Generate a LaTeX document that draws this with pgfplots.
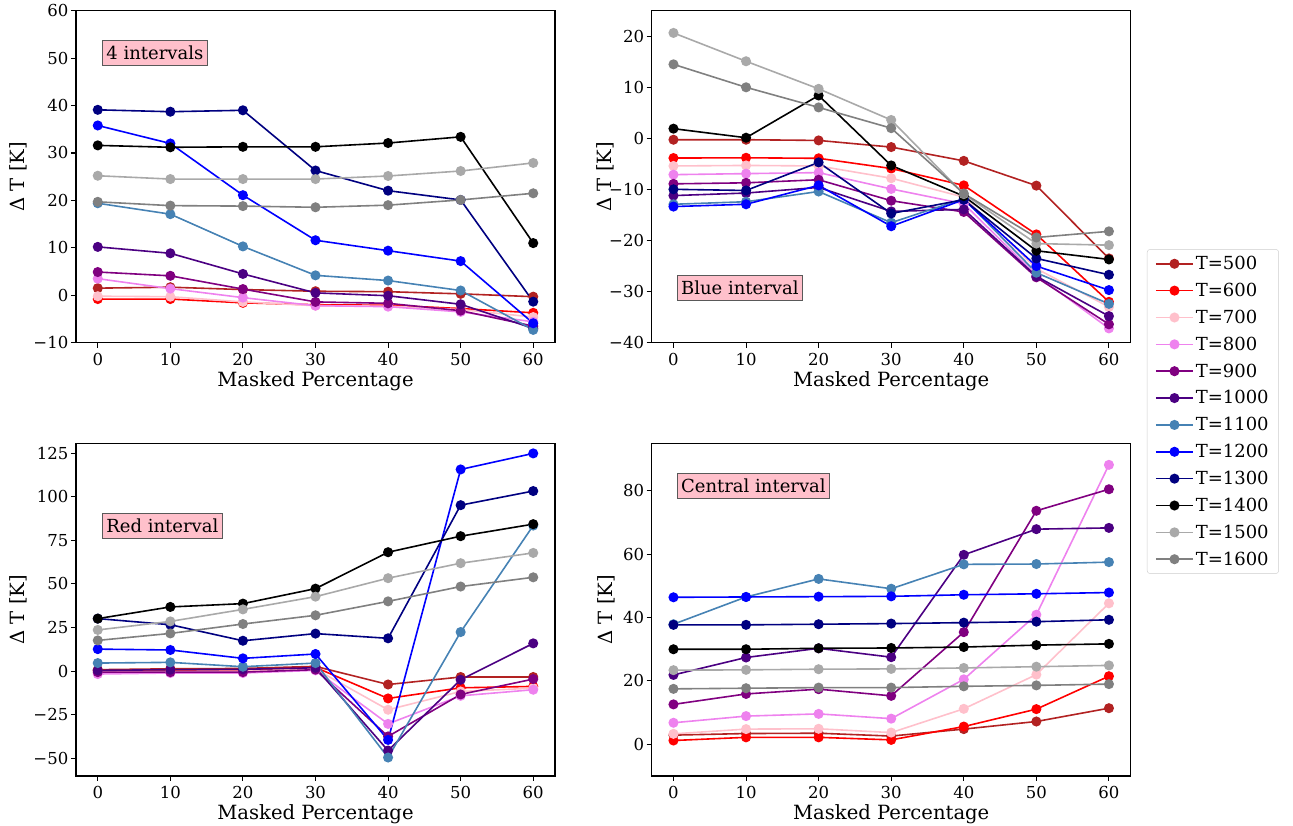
\documentclass[border=0pt]{standalone}
\usepackage{fontspec}
\setmainfont{DejaVu Serif}
\usepackage{pgfplots}
\pgfplotsset{compat=1.18}
\usepackage{pgfplotstable}

\definecolor{c500}{RGB}{178,34,34}
\definecolor{c600}{RGB}{255,0,0}
\definecolor{c700}{RGB}{255,192,203}
\definecolor{c800}{RGB}{238,130,238}
\definecolor{c900}{RGB}{128,0,128}
\definecolor{c1000}{RGB}{75,0,130}
\definecolor{c1100}{RGB}{70,130,180}
\definecolor{c1200}{RGB}{0,0,255}
\definecolor{c1300}{RGB}{0,0,128}
\definecolor{c1400}{RGB}{0,0,0}
\definecolor{c1500}{RGB}{169,169,169}
\definecolor{c1600}{RGB}{128,128,128}
\definecolor{boxpink}{RGB}{255,192,203}

% 4 intervals
\pgfplotstableread{
x  t500 t600 t700 t800 t900 t1000 t1100 t1200 t1300 t1400 t1500 t1600
0  1.5  -0.8 -0.2 3.5  4.9  10.2  19.4  35.8  39.1  31.6  25.2  19.7
10 1.7  -0.8 -0.3 1.4  4.1  8.85  17.1  32.0  38.7  31.2  24.5  18.9
20 1.2  -1.6 -1.4 -0.5 1.3  4.5   10.3  21.1  39.0  31.3  24.5  18.8
30 0.85 -2.0 -2.2 -2.2 -1.4 0.5   4.2   11.6  26.3  31.3  24.5  18.55
40 0.75 -2.1 -2.3 -2.4 -1.7 -0.1  3.1   9.4   22.05 32.1  25.15 19.0
50 0.3  -2.8 -3.0 -3.5 -3.25 -1.9 1.0   7.2   20.1  33.4  26.2  20.1
60 -0.3 -3.7 -4.6 -5.6 -6.5 -7.0  -7.3  -5.9  -1.35 11.0  27.9  21.5
}\fourint

% blue interval
\pgfplotstableread{
x  t500  t600  t700  t800  t900  t1000 t1100 t1200 t1300 t1400 t1500 t1600
0  -0.26 -3.85 -5.4  -7.1  -8.9  -11.2 -12.9 -13.35 -9.97 1.9  20.65 14.5
10 -0.26 -3.8  -5.3  -6.9  -8.7  -10.7 -12.4 -12.9 -10.2 0.13  15.1  10.0
20 -0.4  -3.9  -5.4  -6.7  -8.1  -9.6  -10.4 -9.2  -4.7  8.4   9.7   6.06
30 -1.7  -5.9  -7.8  -9.9  -12.2 -14.3 -16.5 -17.2 -14.7 -5.3  3.6   2.0
40 -4.4  -9.2  -11.5 -12.8 -14.4 -13.9 -11.8 -12.0 -12.0 -11.3 -10.9 -10.8
50 -9.25 -18.8 -25.5 -26.8 -27.2 -27.0 -26.3 -25.0 -23.5 -22.0 -20.6 -19.4
60 -23.5 -32.0 -33.0 -37.2 -36.4 -34.8 -32.4 -29.7 -26.7 -23.7 -20.9 -18.2
}\blueint

% red interval
\pgfplotstableread{
x  t500 t600  t700  t800  t900  t1000 t1100 t1200 t1300 t1400 t1500 t1600
0  0.8  0.2   -0.4  -1.7  -0.6  0.4   4.6   12.6  30.1  30.1  23.6  17.6
10 1.3  0.4   -0.2  -1.1  -0.6  0.8   5.0   12.1  26.6  36.8  28.5  21.6
20 1.5  0.6   0.0   -1.1  -0.6  1.0   2.5   7.3   17.4  38.7  35.4  27.0
30 2.7  2.1   1.1   0.4   0.8   1.9   4.6   9.8   21.5  47.3  42.7  32.0
40 -7.7 -15.7 -22.2 -30.3 -37.5 -45.6 -49.6 -39.5 18.8  68.2  53.3  40.0
50 -3.4 -9.6  -11.7 -14.2 -13.4 -5.0  22.4  115.7 95.2  77.4  61.9  48.5
60 -3.4 -8.8  -9.8  -10.7 -4.6  15.9  83.5  124.9 103.3 84.3  67.8  53.8
}\redint

% central interval
\pgfplotstableread{
x  t500 t600 t700 t800 t900 t1000 t1100 t1200 t1300 t1400 t1500 t1600
0  2.9  1.2  3.3  6.8  12.6 21.9  37.9  46.4  37.7  30.0  23.4  17.5
10 3.4  2.2  4.8  8.9  15.9 27.4  46.5  46.5  37.7  30.0  23.5  17.7
20 3.5  2.2  4.9  9.6  17.4 30.3  52.2  46.6  37.9  30.3  23.7  17.9
30 2.6  1.4  3.7  8.1  15.3 27.5  49.1  46.7  38.1  30.4  23.8  17.9
40 4.8  5.6  11.2 20.5 35.4 59.8  56.8  47.2  38.4  30.7  24.1  18.3
50 7.2  11.1 22.0 40.9 73.7 67.9  56.9  47.5  38.7  31.3  24.5  18.6
60 11.4 21.5 44.5 88.2 80.5 68.3  57.5  47.9  39.3  31.7  24.9  19.0
}\centint

\pgfplotsset{
  panel/.style={
    scale only axis, width=479pt, height=332pt,
    anchor=south west,
    xmin=-3, xmax=63,
    xtick={0,10,20,30,40,50,60},
    xticklabels={0,10,20,30,40,50,60},
    xtick pos=lower, ytick pos=left,
    tick align=outside, major tick length=5pt,
    every tick/.style={black, line width=1.1pt},
    axis line style={line width=1.1pt},
    tick label style={font=\fontsize{16.5}{19}\selectfont, inner sep=0pt},
    xticklabel style={anchor=north, yshift=-5pt},
    yticklabel style={anchor=east, xshift=-2.5pt},
    label style={font=\fontsize{19.6}{23}\selectfont},
    xlabel={Masked Percentage},
    ylabel={Δ T [K]},
    xlabel style={at={(rel axis cs:0.5,0)}, anchor=base, yshift=-44pt},
    ylabel style={at={(rel axis cs:0,0.5)}, anchor=center},
    every axis plot/.append style={line width=1.6pt, mark=*, mark size=4.2pt, mark options={solid}},
    cycle list={{c500},{c600},{c700},{c800},{c900},{c1000},{c1100},{c1200},{c1300},{c1400},{c1500},{c1600}},
  },
}
\tikzset{
  tag/.style={fill=boxpink, draw=black!65, line width=1pt, anchor=west,
    inner xsep=4pt, inner ysep=5.5pt, font=\fontsize{18}{21}\selectfont},
}

\newcommand{\allplots}[1]{%
  \addplot table[x=x,y=t500]{#1};
  \addplot table[x=x,y=t600]{#1};
  \addplot table[x=x,y=t700]{#1};
  \addplot table[x=x,y=t800]{#1};
  \addplot table[x=x,y=t900]{#1};
  \addplot table[x=x,y=t1000]{#1};
  \addplot table[x=x,y=t1100]{#1};
  \addplot table[x=x,y=t1200]{#1};
  \addplot table[x=x,y=t1300]{#1};
  \addplot table[x=x,y=t1400]{#1};
  \addplot table[x=x,y=t1500]{#1};
  \addplot table[x=x,y=t1600]{#1};
}

\begin{document}
\begin{tikzpicture}
\path[use as bounding box] (0pt,0pt) rectangle (1293pt,826pt);

% top left
\begin{axis}[panel, at={(76pt,483.3pt)},
  ymin=-10, ymax=60,
  ytick={-10,0,10,20,30,40,50,60},
  yticklabels={−10,0,10,20,30,40,50,60},
  ylabel style={yshift=58pt}]
\allplots{\fourint}
\node[tag] at (rel axis cs:0.054,0.872) {4 intervals};
\end{axis}

% top right
\begin{axis}[panel, at={(651.7pt,483.3pt)},
  ymin=-40, ymax=25,
  ytick={-40,-30,-20,-10,0,10,20},
  yticklabels={−40,−30,−20,−10,0,10,20},
  ylabel style={yshift=46.7pt}]
\allplots{\blueint}
\node[tag] at (rel axis cs:0.052,0.166) {Blue interval};
\end{axis}

% bottom left
\begin{axis}[panel, at={(76pt,50pt)},
  height=332.7pt,
  ymin=-60.2, ymax=130.7,
  ytick={-50,-25,0,25,50,75,100,125},
  yticklabels={−50,−25,0,25,50,75,100,125},
  ylabel style={yshift=58pt}]
\allplots{\redint}
\node[tag] at (rel axis cs:0.054,0.751) {Red interval};
\end{axis}

% bottom right
\begin{axis}[panel, at={(651.7pt,50pt)},
  height=332.7pt,
  ymin=-10, ymax=95,
  ytick={0,20,40,60,80},
  yticklabels={0,20,40,60,80},
  ylabel style={yshift=45pt},
  legend style={at={(rel axis cs:1.034,1.0956)}, anchor=west,
    draw=black!20, rounded corners=3pt, fill=white,
    font=\fontsize{18}{21}\selectfont, row sep=8pt,
    inner xsep=8pt, inner ysep=5pt},
  legend cell align=left,
  legend image code/.code={\draw[mark repeat=2, mark phase=2] plot coordinates {(0pt,0pt) (18.5pt,0pt) (37pt,0pt)};}]
\allplots{\centint}
\node[tag] at (rel axis cs:0.052,0.871) {Central interval};
\legend{T=500,T=600,T=700,T=800,T=900,T=1000,T=1100,T=1200,T=1300,T=1400,T=1500,T=1600}
\end{axis}
\end{tikzpicture}
\end{document}
